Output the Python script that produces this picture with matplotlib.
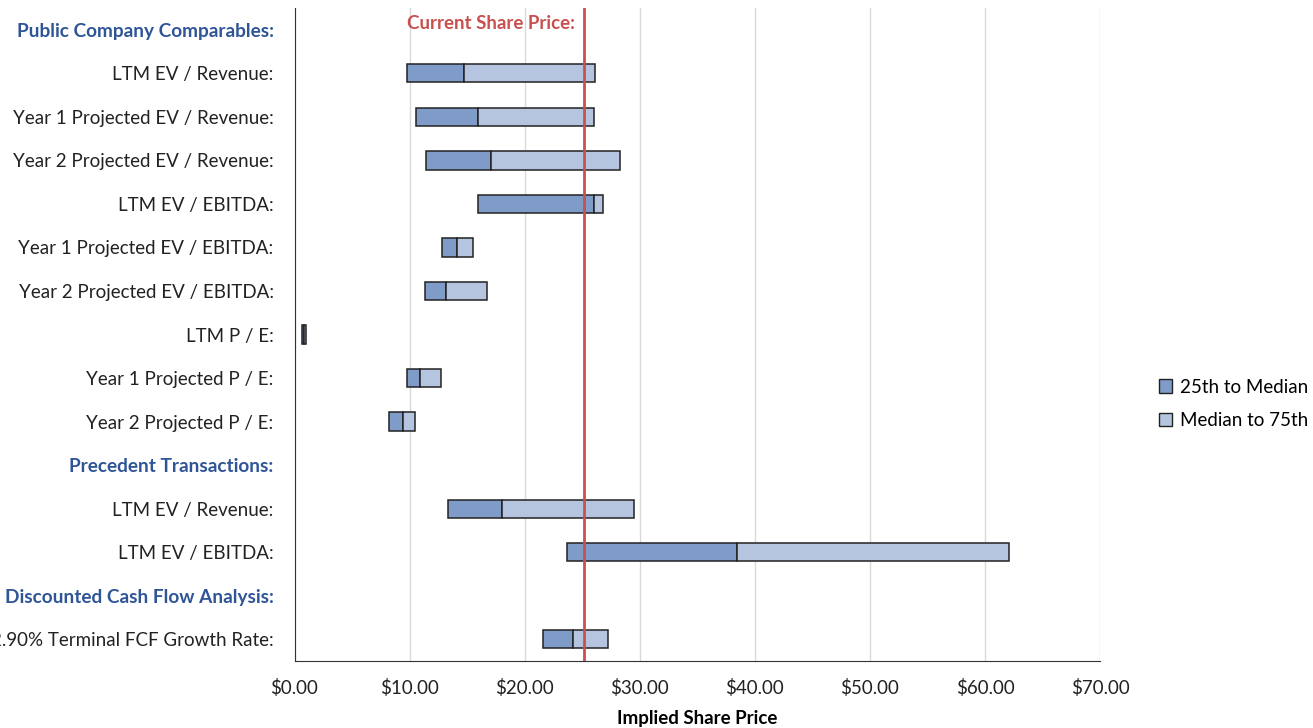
import matplotlib
matplotlib.use('Agg')
import matplotlib.pyplot as plt
import numpy as np
from matplotlib.patches import Patch

plt.rcParams['font.family'] = ['Lato', 'DejaVu Sans']

# rows top to bottom; headers have no bars (None)
labels = ['Public Company Comparables:', 'LTM EV / Revenue:', 'Year 1 Projected EV / Revenue:',
          'Year 2 Projected EV / Revenue:', 'LTM EV / EBITDA:', 'Year 1 Projected EV / EBITDA:',
          'Year 2 Projected EV / EBITDA:', 'LTM P / E:', 'Year 1 Projected P / E:',
          'Year 2 Projected P / E:', 'Precedent Transactions:', 'LTM EV / Revenue:',
          'LTM EV / EBITDA:', 'Discounted Cash Flow Analysis:', '2.90% Terminal FCF Growth Rate:']
headers = [0, 10, 13]
p25 = [None, 9.75, 10.55, 11.45, 15.95, 12.80, 11.33, 0.62, 9.77, 8.19, None, 13.34, 23.72, None, 21.60]
median = [None, 14.72, 15.95, 17.07, 26.05, 14.12, 13.14, 0.82, 10.87, 9.46, None, 18.05, 38.41, None, 24.19]
p75 = [None, 26.10, 26.03, 28.25, 26.83, 15.48, 16.74, 1.02, 12.71, 10.46, None, 29.50, 62.07, None, 27.22]
current_price = 25.2

dark = '#7F9BC8'
light = '#B5C4DF'
header_color = '#2F5597'
red = '#C9504E'

fig = plt.figure(figsize=(13.13, 7.28), dpi=100)
ax = fig.add_axes([0.2243, 0.092, 0.6135, 0.897])

n = len(labels)
for i in range(n):
    if p25[i] is None:
        continue
    ax.barh(i, median[i] - p25[i], left=p25[i], height=0.42, color=dark,
            edgecolor='#222222', linewidth=1.1, zorder=3)
    ax.barh(i, p75[i] - median[i], left=median[i], height=0.42, color=light,
            edgecolor='#222222', linewidth=1.1, zorder=3)

ax.axvline(current_price, color=red, linewidth=2, zorder=4)
ax.annotate('Current Share Price:', xy=(current_price, -0.14), xytext=(-7, 0),
            textcoords='offset points', ha='right', va='center', color=red,
            fontsize=13.5, fontweight='bold')

ax.set_xlim(0, 70)
ax.set_ylim(n - 0.5, -0.5)
ax.set_xticks(np.arange(0, 71, 10))
ax.set_xticklabels(['$%.2f' % v for v in np.arange(0, 71, 10)], fontsize=13.5, color='#222222')
ax.set_yticks(range(n))
ax.set_yticklabels(labels, fontsize=13.5, color='#222222')
for i, t in enumerate(ax.get_yticklabels()):
    if i in headers:
        t.set_color(header_color)
        t.set_fontweight('bold')
        t.set_fontsize(13.7)
ax.tick_params(axis='both', length=0)
ax.tick_params(axis='y', pad=15)
ax.tick_params(axis='x', pad=13)
ax.grid(axis='x', color='#D9D9D9', linewidth=1, zorder=0)
ax.set_axisbelow(True)
for s in ['top', 'right']:
    ax.spines[s].set_visible(False)
ax.spines['left'].set_color('#333333')
ax.spines['bottom'].set_color('#333333')
ax.set_xlabel('Implied Share Price', fontsize=13.5, fontweight='bold', labelpad=9)

handles = [Patch(facecolor=dark, edgecolor='#222222', label='25th to Median'),
           Patch(facecolor=light, edgecolor='#222222', label='Median to 75th')]
fig.legend(handles=handles, loc='center left', bbox_to_anchor=(0.870, 0.445), frameon=False,
           fontsize=13.5, handlelength=0.7, handleheight=0.7, handletextpad=0.4, labelspacing=0.9)

fig.savefig('out.png', dpi=100)
